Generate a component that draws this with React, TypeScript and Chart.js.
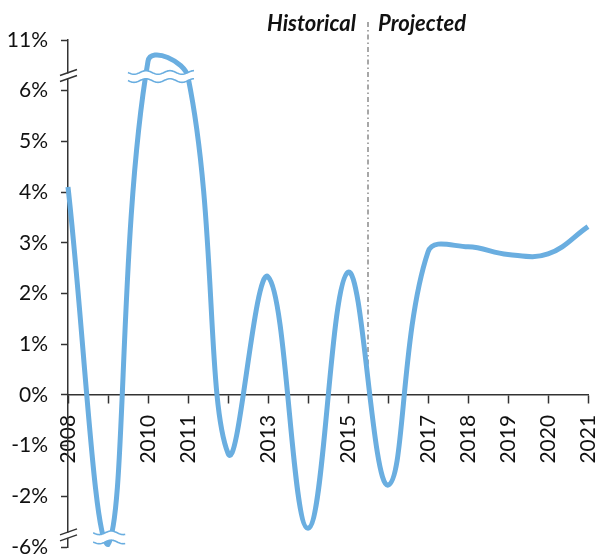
import React, { useEffect, useRef } from 'react';
import { Chart, registerables } from 'chart.js';

Chart.register(...registerables);

// ---- Data ----
const years = ['2008', '2009', '2010', '2011', '2012', '2013', '2014', '2015', '2016', '2017', '2018', '2019', '2020', '2021'];
// plotted growth (% on the broken axis; 2009-2011 are drawn capped at the breaks)
const growth = [4.1, -2.95, 6.58, 6.27, -1.15, 2.33, -2.63, 2.42, -1.78, 2.82, 2.92, 2.77, 2.78, 3.32];
const shownYears = ['2008', '2010', '2011', '2013', '2015', '2017', '2018', '2019', '2020', '2021'];
// y tick labels: axis position -> label (top and bottom ticks sit past the breaks)
const yTickPositions = [-3, -2, -1, 0, 1, 2, 3, 4, 5, 6, 7];
const yTickLabels = ['-6%', '-2%', '-1%', '0%', '1%', '2%', '3%', '4%', '5%', '6%', '11%'];
const historicalLabel = 'Historical';
const projectedLabel = 'Projected';
const dividerIndex = 7.5; // between 2015 and 2016

const LINE_COLOR = '#6aaee0';
const FONT = 'Lato, "Liberation Sans", sans-serif';

function wavePath(ctx: CanvasRenderingContext2D, x0: number, x1: number, y: number, amp: number, period: number, reverse: boolean, move: boolean) {
  const steps = Math.max(2, Math.round(Math.abs(x1 - x0)));
  for (let i = 0; i <= steps; i++) {
    const t = reverse ? steps - i : i;
    const x = x0 + (x1 - x0) * t / steps;
    const yy = y + amp * Math.sin(((x - x0) / period) * Math.PI * 2);
    if (i === 0 && move) ctx.moveTo(x, yy);
    else ctx.lineTo(x, yy);
  }
}

function curveBreak(chart: any, i0: number, i1: number, p0: number, p1: number) {
  const { ctx, scales } = chart;
  const x0 = scales.x.getPixelForValue(i0);
  const x1 = scales.x.getPixelForValue(i1);
  const ya = scales.y.getPixelForValue(p0);
  const yb = scales.y.getPixelForValue(p1);
  const amp = 1.8;
  const period = 24;
  ctx.save();
  ctx.beginPath();
  wavePath(ctx, x0, x1, ya, amp, period, false, true);
  wavePath(ctx, x0, x1, yb, amp, period, true, false);
  ctx.closePath();
  ctx.fillStyle = '#ffffff';
  ctx.fill();
  ctx.strokeStyle = LINE_COLOR;
  ctx.lineWidth = 1.6;
  ctx.beginPath();
  wavePath(ctx, x0, x1, ya, amp, period, false, true);
  ctx.stroke();
  ctx.beginPath();
  wavePath(ctx, x0, x1, yb, amp, period, false, true);
  ctx.stroke();
  ctx.restore();
}

function axisBreak(chart: any, pos: number) {
  const { ctx, scales, chartArea } = chart;
  const x = chartArea.left;
  const y = scales.y.getPixelForValue(pos);
  ctx.save();
  ctx.fillStyle = '#ffffff';
  ctx.fillRect(x - 3, y - 3, 6, 5);
  ctx.strokeStyle = '#333333';
  ctx.lineWidth = 1.5;
  ctx.beginPath();
  ctx.moveTo(x - 8, y - 1);
  ctx.lineTo(x + 9, y - 7);
  ctx.moveTo(x - 8, y + 5);
  ctx.lineTo(x + 9, y - 1);
  ctx.stroke();
  ctx.restore();
}

const decorPlugin = {
  id: 'decor',
  beforeDatasetsDraw(chart: any) {
    const { ctx, scales } = chart;
    const x = scales.x.getPixelForValue(dividerIndex);
    const y0 = 22;
    const y1 = scales.y.getPixelForValue(0);
    ctx.save();
    ctx.strokeStyle = '#8a8a8a';
    ctx.lineWidth = 1.5;
    ctx.setLineDash([5, 3, 1.5, 3]);
    ctx.beginPath();
    ctx.moveTo(x, y0);
    ctx.lineTo(x, y1);
    ctx.stroke();
    ctx.restore();
  },
  afterDatasetsDraw(chart: any) {
    const { ctx, scales } = chart;
    curveBreak(chart, 1.5, 3.15, 6.36, 6.2);
    curveBreak(chart, 0.63, 1.43, -2.72, -2.9);
    axisBreak(chart, 6.28);
    axisBreak(chart, -2.78);
    const x = scales.x.getPixelForValue(dividerIndex);
    ctx.save();
    ctx.fillStyle = '#111111';
    ctx.font = `italic bold 22px ${FONT}`;
    ctx.textBaseline = 'alphabetic';
    ctx.textAlign = 'right';
    ctx.fillText(historicalLabel, x - 12, 31);
    ctx.textAlign = 'left';
    ctx.fillText(projectedLabel, x + 10, 31);
    ctx.restore();
  },
};

export default function App() {
  const ref = useRef<HTMLCanvasElement | null>(null);

  useEffect(() => {
    if (!ref.current) return;
    const chart = new Chart(ref.current, {
      type: 'line',
      data: {
        labels: years,
        datasets: [
          {
            data: growth,
            borderColor: LINE_COLOR,
            borderWidth: 5,
            pointRadius: 0,
            tension: 0.4,
            fill: false,
            clip: 8,
          },
        ],
      },
      options: {
        animation: false,
        responsive: false,
        events: [],
        layout: { padding: { top: 40, bottom: 11, right: 8, left: 0 } },
        plugins: {
          legend: { display: false },
          tooltip: { enabled: false },
        },
        scales: {
          x: {
            type: 'category',
            position: { y: 0 } as any,
            offset: false,
            afterFit: (scale: any) => {
              scale.paddingLeft = 0;
              scale.paddingRight = 0;
              scale.paddingTop = 0;
              scale.paddingBottom = 0;
            },
            grid: {
              drawOnChartArea: false,
              drawTicks: true,
              tickLength: 8,
              tickWidth: 1.5,
              tickColor: '#333333',
            },
            border: { display: true, color: '#333333', width: 1.5 },
            ticks: {
              autoSkip: false,
              maxRotation: 90,
              minRotation: 90,
              padding: 12,
              color: '#111111',
              font: { family: FONT, size: 21 },
              callback: (_v: any, i: number) => (shownYears.includes(years[i]) ? years[i] : ''),
            },
          },
          y: {
            type: 'linear',
            min: yTickPositions[0],
            max: yTickPositions[yTickPositions.length - 1],
            afterFit: (scale: any) => {
              scale.width = 68;
              scale.paddingTop = 0;
              scale.paddingBottom = 0;
            },
            afterBuildTicks: (scale: any) => {
              scale.ticks = yTickPositions.map((v) => ({ value: v }));
            },
            grid: {
              drawOnChartArea: false,
              drawTicks: true,
              tickLength: 7,
              tickWidth: 1.5,
              tickColor: '#333333',
            },
            border: { display: true, color: '#333333', width: 1.5 },
            ticks: {
              padding: 13,
              color: '#111111',
              font: { family: FONT, size: 21, lineHeight: 1 },
              callback: (v: any) => {
                const k = yTickPositions.indexOf(Math.round(Number(v)));
                return k >= 0 ? yTickLabels[k] : '';
              },
            },
          },
        },
      },
      plugins: [decorPlugin],
    });
    return () => chart.destroy();
  }, []);

  return (
    <div style={{ position: 'absolute', left: 0, top: 0, width: 596, height: 558, background: '#fff' }}>
      <canvas ref={ref} width={596} height={558} style={{ display: 'block' }} />
    </div>
  );
}
